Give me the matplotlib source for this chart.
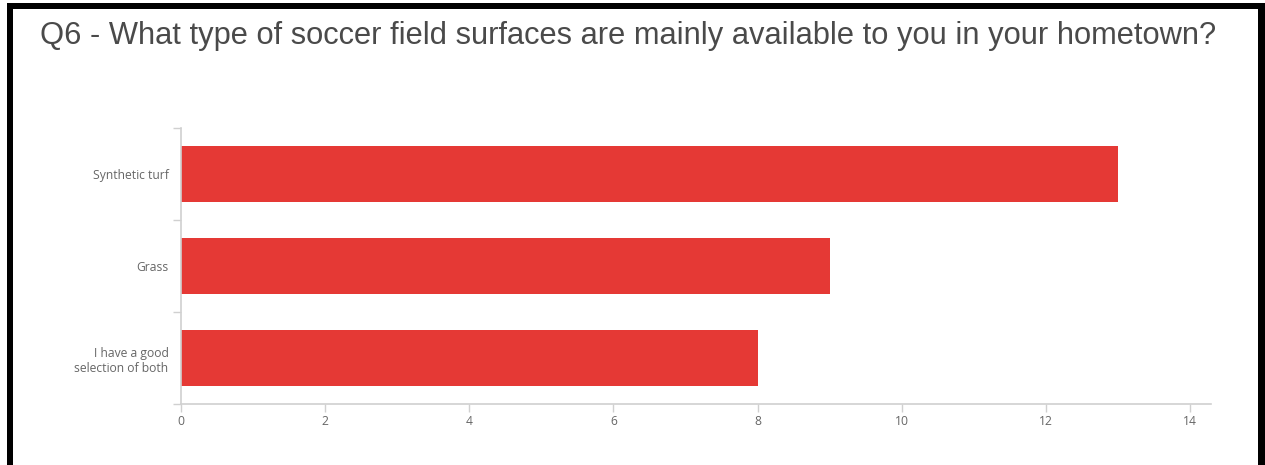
import matplotlib.pyplot as plt
import numpy as np
from matplotlib.patches import Rectangle

plt.rcParams['font.family'] = ['Open Sans', 'DejaVu Sans']

# Survey responses
answers = ['Synthetic turf', 'Grass', 'I have a good\nselection of both']
counts = [13, 9, 8]
x_ticks = [0, 2, 4, 6, 8, 10, 12, 14]
title = 'Q6 - What type of soccer field surfaces are mainly available to you in your hometown?'

bar_color = '#E53935'
axis_color = '#d0d0d0'
label_color = '#666666'

fig = plt.figure(figsize=(12.65, 4.65), dpi=100)
ax = fig.add_axes([181 / 1265, 1 - 404 / 465, 1030 / 1265, 276 / 465])

y = np.arange(len(answers))
ax.barh(y, counts, height=0.6, color=bar_color, edgecolor='none')

ax.set_xlim(0, 14.29)
ax.set_ylim(len(answers) - 0.5, -0.5)
ax.set_xticks(x_ticks)
ax.set_xticklabels([str(t) for t in x_ticks])

# category labels centred on bars, tick marks between categories
ax.set_yticks(y)
ax.set_yticklabels(answers, fontsize=8.7, color=label_color, linespacing=1.25)
ax.set_yticks(np.arange(-0.5, len(answers)), minor=True)
ax.tick_params(axis='y', which='major', length=0, pad=9)
ax.tick_params(axis='y', which='minor', length=6, width=1, color=axis_color)
ax.tick_params(axis='x', length=6, width=1, color=axis_color,
               labelsize=8.7, labelcolor=label_color, pad=2)

for side in ('top', 'right'):
    ax.spines[side].set_visible(False)
for side in ('left', 'bottom'):
    ax.spines[side].set_color(axis_color)
    ax.spines[side].set_linewidth(1.2)

fig.text(40 / 1265, 1 - 36 / 465, title, family='Liberation Sans', fontsize=22.25,
         color='#4a4a4a', ha='left', va='center')

# black frame around the panel
for x0, y0, w, h in [(7, 3, 1258, 6), (7, 3, 6, 462), (1258, 3, 7, 462)]:
    fig.add_artist(Rectangle((x0 / 1265, 1 - (y0 + h) / 465), w / 1265, h / 465,
                             transform=fig.transFigure, color='black', lw=0))

fig.savefig('out.png', dpi=100)
